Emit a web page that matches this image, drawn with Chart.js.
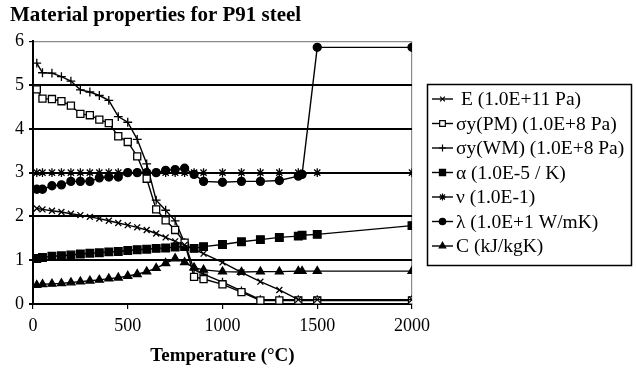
<!DOCTYPE html>
<html>
<head>
<meta charset="utf-8">
<title>Material properties for P91 steel</title>
<script src="https://cdn.jsdelivr.net/npm/chart.js@4/dist/chart.umd.min.js"></script>
<style>
  html, body { margin: 0; padding: 0; background: #fff; }
  #wrap { width: 636px; height: 374px; position: relative; }
</style>
</head>
<body>
<div id="wrap"><canvas id="c" width="636" height="374"></canvas></div>
<script>
// Temperatures (°C) at which the properties are tabulated
const temps = [20, 50, 100, 150, 200, 250, 300, 350, 400, 450, 500, 550, 600, 650, 700, 750, 800, 850, 900, 1000, 1100, 1200, 1300, 1400, 1500, 2000];
// α, λ and C carry one extra point just above 1400 °C
const tempsFine = [20, 50, 100, 150, 200, 250, 300, 350, 400, 450, 500, 550, 600, 650, 700, 750, 800, 850, 900, 1000, 1100, 1200, 1300, 1400, 1420, 1500, 2000];

// Young's modulus, 1.0E+11 Pa
const youngsModulus = [2.18, 2.16, 2.13, 2.10, 2.06, 2.03, 1.99, 1.95, 1.90, 1.85, 1.80, 1.75, 1.69, 1.61, 1.52, 1.43, 1.35, 1.25, 1.15, 0.95, 0.72, 0.51, 0.32, 0.10, 0.10, 0.10];
// Yield stress, parent metal, 1.0E+8 Pa
const yieldPM = [4.90, 4.69, 4.68, 4.63, 4.53, 4.34, 4.31, 4.21, 4.13, 3.83, 3.70, 3.37, 2.86, 2.16, 1.91, 1.69, 1.40, 0.62, 0.57, 0.45, 0.27, 0.08, 0.08, 0.08, 0.08, 0.08];
// Yield stress, weld metal, 1.0E+8 Pa
const yieldWM = [5.50, 5.28, 5.27, 5.19, 5.09, 4.89, 4.84, 4.76, 4.65, 4.28, 4.15, 3.76, 3.20, 2.37, 2.14, 1.90, 1.40, 0.78, 0.68, 0.50, 0.30, 0.10, 0.10, 0.10, 0.10, 0.10];
// Thermal expansion coefficient, 1.0E-5 / K
const expansion = [1.04, 1.06, 1.09, 1.10, 1.12, 1.14, 1.16, 1.17, 1.19, 1.20, 1.22, 1.24, 1.25, 1.27, 1.28, 1.30, 1.31, 1.27, 1.31, 1.36, 1.42, 1.47, 1.52, 1.55, 1.57, 1.59, 1.79];
// Poisson's ratio, 1.0E-1
const poisson = [3.0, 3.0, 3.0, 3.0, 3.0, 3.0, 3.0, 3.0, 3.0, 3.0, 3.0, 3.0, 3.0, 3.0, 3.0, 3.0, 3.0, 3.0, 3.0, 3.0, 3.0, 3.0, 3.0, 3.0, 3.0, 3.0];
// Thermal conductivity, 1.0E+1 W/mK
const conductivity = [2.62, 2.62, 2.70, 2.72, 2.80, 2.80, 2.80, 2.88, 2.90, 2.90, 3.00, 3.00, 3.00, 3.00, 3.05, 3.07, 3.10, 2.96, 2.80, 2.78, 2.80, 2.80, 2.82, 2.92, 2.96, 5.86, 5.86];
// Specific heat, kJ/kgK
const specificHeat = [0.43, 0.45, 0.46, 0.47, 0.49, 0.51, 0.53, 0.55, 0.58, 0.60, 0.64, 0.68, 0.74, 0.82, 0.93, 1.04, 0.95, 0.83, 0.78, 0.74, 0.73, 0.74, 0.74, 0.75, 0.75, 0.75, 0.75];

const seriesLabels = [' E (1.0E+11 Pa)', 'σy(PM) (1.0E+8 Pa)', 'σy(WM) (1.0E+8 Pa)', 'α (1.0E-5 / K)', 'ν (1.0E-1)', 'λ (1.0E+1 W/mK)', 'C (kJ/kgK)'];
const yTicks = [0, 1, 2, 3, 4, 5, 6];
const xTicks = [0, 500, 1000, 1500, 2000];

const pairs = (xs, ys) => xs.map((x, i) => ({ x: x, y: ys[i] }));

const SERIF = '"Liberation Serif", "Times New Roman", serif';

function series(label, xs, ys, style, radius, fill) {
  return {
    label: label,
    data: pairs(xs, ys),
    borderColor: '#000',
    borderWidth: 1.4,
    pointStyle: style,
    pointRadius: radius,
    pointHoverRadius: radius,
    pointBorderColor: '#000',
    pointBorderWidth: 1.3,
    pointBackgroundColor: fill,
    tension: 0,
    fill: false
  };
}

const datasets = [
  series(seriesLabels[0], temps, youngsModulus, 'crossRot', 4.2, '#000'),
  series(seriesLabels[1], temps, yieldPM, 'rect', 5, '#fff'),
  series(seriesLabels[2], temps, yieldWM, 'cross', 4.4, '#000'),
  series(seriesLabels[3], tempsFine, expansion, 'rect', 5.4, '#000'),
  series(seriesLabels[4], temps, poisson, 'star', 4.4, '#000'),
  series(seriesLabels[5], tempsFine, conductivity, 'circle', 4, '#000'),
  series(seriesLabels[6], tempsFine, specificHeat, 'triangle', 4.6, '#000')
];

// Boxed legend to the right of the plot: a short line with the series marker, then its label
const boxedLegend = {
  id: 'boxedLegend',
  afterDraw(chart) {
    const ctx = chart.ctx;
    const box = { x: 427.5, y: 84.5, w: 204, h: 181 };
    ctx.save();
    ctx.strokeStyle = '#000';
    ctx.lineWidth = 1.5;
    ctx.strokeRect(box.x, box.y, box.w, box.h);
    ctx.font = '19.5px ' + SERIF;
    ctx.textBaseline = 'middle';
    ctx.textAlign = 'left';
    chart.data.datasets.forEach((ds, i) => {
      const y = 99 + i * 24.5;
      ctx.strokeStyle = '#000';
      ctx.lineWidth = 1.4;
      ctx.beginPath();
      ctx.moveTo(432, y);
      ctx.lineTo(453, y);
      ctx.stroke();
      ctx.fillStyle = ds.pointBackgroundColor;
      ctx.lineWidth = 1.2;
      Chart.helpers.drawPoint(ctx, {
        pointStyle: ds.pointStyle,
        radius: ds.pointRadius * 0.8,
        rotation: 0,
        borderWidth: 1.2
      }, 442.5, y);
      ctx.fillStyle = '#000';
      ctx.fillText(ds.label, 456, y + 1);
    });
    ctx.restore();
  }
};

new Chart(document.getElementById('c'), {
  type: 'line',
  data: { datasets: datasets },
  plugins: [boxedLegend],
  options: {
    responsive: false,
    animation: false,
    events: [],
    layout: { padding: { left: 10, right: 224, top: 0, bottom: 0 } },
    plugins: {
      legend: { display: false },
      tooltip: { enabled: false },
      title: {
        display: true,
        text: 'Material properties for P91 steel',
        align: 'start',
        color: '#000',
        font: { family: SERIF, size: 21, weight: 'bold', lineHeight: 1.2 },
        padding: { top: 3, bottom: 13 }
      }
    },
    scales: {
      x: {
        type: 'linear',
        min: 0,
        max: 2000,
        afterBuildTicks(scale) { scale.ticks = xTicks.map(v => ({ value: v })); },
        afterFit(scale) { scale.height = 70; },
        ticks: {
          color: '#000',
          font: { family: SERIF, size: 18 },
          padding: 6,
          maxRotation: 0,
          callback: (v) => String(v)
        },
        grid: {
          color: (c) => (c.tick && c.tick.value === 2000 ? '#8a8a8a' : 'rgba(0,0,0,0)'),
          lineWidth: 1.2,
          tickColor: '#000',
          tickLength: 5,
          drawOnChartArea: true
        },
        border: { color: '#000', width: 2 },
        title: {
          display: true,
          text: 'Temperature (°C)',
          color: '#000',
          font: { family: SERIF, size: 19, weight: 'bold', lineHeight: 1.2 },
          padding: { top: 0, bottom: 7 }
        }
      },
      y: {
        min: 0,
        max: 6,
        afterBuildTicks(scale) { scale.ticks = yTicks.map(v => ({ value: v })); },
        afterFit(scale) { scale.width = 23; },
        ticks: {
          color: '#000',
          font: { family: SERIF, size: 18 },
          padding: 5
        },
        grid: {
          color: (c) => (c.tick && c.tick.value === 6 ? '#8a8a8a' : '#000'),
          lineWidth: (c) => (c.tick && c.tick.value === 6 ? 1.2 : 2),
          tickColor: '#000',
          tickLength: 4
        },
        border: { color: '#000', width: 2 }
      }
    }
  }
});
</script>
</body>
</html>
